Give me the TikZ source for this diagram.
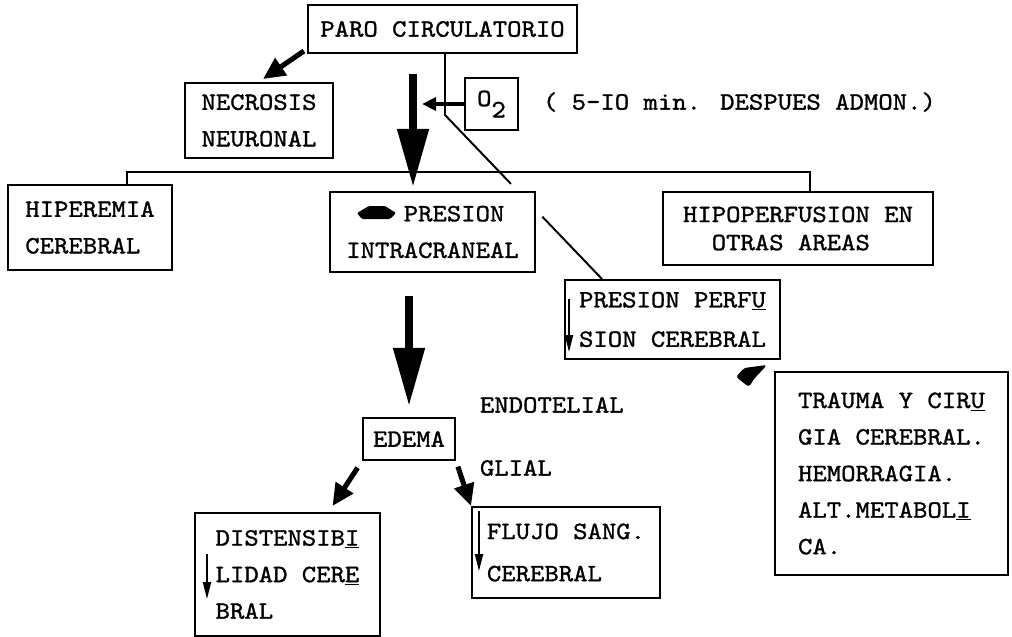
\documentclass[tikz,border=0pt]{standalone}
\usepackage{fontspec}
\newfontfamily\typefont[FakeStretch=1.1,FakeBold=1.2]{lmmono10-regular.otf}
\usepackage{tikz}
\usetikzlibrary{arrows.meta,calc}

\begin{document}
\begin{tikzpicture}[
    x=0.025cm, y=-0.025cm,
    font=\typefont\fontsize{17.7}{26}\selectfont,
    block/.style={rectangle, draw, line width=1.4pt, align=left},
    line/.style={draw, line width=1.4pt},
    bigarrow/.style={draw, line width=5.5pt, -{Triangle[width=0.75cm,length=1.45cm]}},
    midarrow/.style={draw, line width=3.6pt, -{Triangle[width=0.5cm,length=0.55cm]}},
    otwoarrow/.style={draw, line width=2.8pt, -{Triangle[width=0.32cm,length=0.35cm]}},
    thinarrow/.style={draw, line width=1.3pt, -{Triangle[width=0.2cm,length=0.42cm]}}
]
    \useasboundingbox (0,0) rectangle (1012,637);

    \node [block, minimum width=6.725cm, minimum height=1.2cm]   (paro)    at (442.5,29)  {PARO CIRCULATORIO};
    \node [block, minimum width=3.7cm,   minimum height=1.875cm] (necro)   at (259,120.5) {NECROSIS\\NEURONAL};
    \node [block, minimum width=1.325cm, minimum height=1.3cm, inner sep=2pt] (otwo) at (491.5,104) {O\raisebox{-8pt}{2}};
    \node [anchor=west] (otwonote) at ($(otwo.east)+(19,-2)$) {( 5-IO min. DESPUES ADMON.)};
    \node [block, minimum width=4.1cm,   minimum height=2.125cm] (hiper)   at (90,227.5)  {HIPEREMIA\\CEREBRAL};
    \node [block, minimum width=5.125cm, minimum height=2cm]     (presion) at (432.5,232) {\phantom{XXXX}PRESION\\INTRACRANEAL};
    \node [block, minimum width=6.75cm,  minimum height=1.825cm] (hipo)    at (798,228.5) {HIPOPERFUSION EN\\[-6pt]\phantom{XX}OTRAS AREAS};
    \node [block, minimum width=5.375cm, minimum height=1.975cm] (perf)    at (672.5,319.5) {PRESION PERF\underline{U}\\[2pt]SION CEREBRAL};
    \node [block, minimum width=5.825cm, minimum height=5.075cm] (trauma)  at (891.5,473.5) {TRAUMA Y CIR\underline{U}\\GIA CEREBRAL.\\HEMORRAGIA.\\ALT.METABOL\underline{I}\\CA.};
    \node [block, minimum width=2.3cm,   minimum height=1.05cm]  (edema)   at (409,439)   {EDEMA};
    \node [anchor=west] (endo)  at (475,405) {ENDOTELIAL};
    \node [anchor=west] (glial) at (475,468) {GLIAL};
    \node [block, minimum width=4.625cm, minimum height=3.075cm] (disten)  at (287.5,574.5) {DISTENSIB\underline{I}\\LIDAD CER\underline{E}\\BRAL};
    \node [block, minimum width=4.7cm,   minimum height=2.275cm] (flujo)   at (566,552.5) {FLUJO SANG.\\[4pt]CEREBRAL};

    \coordinate (bend) at (445,115);
    \coordinate (pp)   at ($(perf.north west)+(38,0)$);
    \coordinate (hl)   at (127,172);
    \coordinate (hr)   at (810,172);
    \coordinate (otip) at (422,104);
    \coordinate (a1)   at (413,0);

    \path [line] (paro.south -| bend) -- (bend) -- ($(bend)!0.42!(pp)$);
    \path [line] ($(bend)!0.62!(pp)$) -- (pp);
    \path [line] (hiper.north -| hl) -- (hl) -- (hr) -- (hipo.north -| hr);

    \path [otwoarrow] (otwo.west) -- (otip);
    \path [midarrow] ($(paro.south west)+(-3,-3)$) -- ($(necro.north)+(4,-3)$);
    \path [bigarrow, shorten <=0.5cm, shorten >=0.1cm] (paro.south -| a1) -- (presion.north -| a1);
    \path [bigarrow, shorten <=0.575cm, shorten >=0.275cm] (presion.south -| edema.north) -- (edema.north);
    \path [midarrow, shorten <=0.2cm] (edema.south west) -- ($(disten.north)+(45,-6)$);
    \path [midarrow, shorten <=0.15cm] (edema.south east) -- (flujo.north west);

    \path [thinarrow] ($(perf.north west)+(5,20)$) -- ($(perf.north west)+(5,73)$);
    \path [thinarrow] ($(disten.north west)+(13,42)$) -- ($(disten.north west)+(13,87)$);
    \path [thinarrow] ($(flujo.north west)+(8,5)$) -- ($(flujo.north west)+(8,65)$);

    \fill [rounded corners=0.8pt] ($(presion.north west)+(33,28)$) -- ++(28,0) -- ++(6,-6) -- ++(-11,-7) -- ++(-16,0) -- ++(-12,7) -- cycle;
    \fill [rounded corners=2pt] ($(trauma.north west)+(-7,-6)$) -- ++(-23,3) -- ++(-8,9) -- ++(13,10) -- ++(5,-8) -- cycle;
\end{tikzpicture}
\end{document}
